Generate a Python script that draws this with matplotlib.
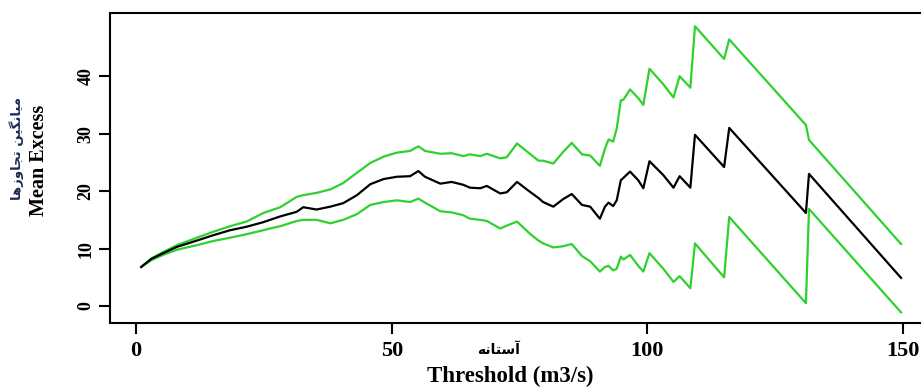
import matplotlib
matplotlib.use('Agg')
import matplotlib.pyplot as plt

# threshold values (m3/s)
threshold = [1, 3, 5.3, 8, 11.9, 15, 18.4, 21.6, 24.9, 26.2, 28.2, 31.4, 32.7, 35.3,
             38, 40.5, 43.2, 45.8, 48.4, 51, 53.6, 55.2, 56.5, 59.5, 61.7, 64, 65.3,
             67.3, 68.6, 71.2, 72.5, 74.5, 77, 78.7, 79.6, 81.6, 83.5, 85.2, 87.2,
             88.8, 90.7, 91.7, 92.4, 93.3, 94, 94.8, 95.3, 96.6, 98.2, 99.2, 100.4,
             103.1, 105.1, 106.3, 108.4, 109.3, 115, 116, 131, 131.6, 149.6]

# mean excess
mean_excess = [6.8, 8.2, 9.2, 10.3, 11.4, 12.3, 13.2, 13.8, 14.6, 15.0, 15.6, 16.4, 17.2,
               16.8, 17.3, 17.9, 19.3, 21.2, 22.1, 22.5, 22.6, 23.5, 22.5, 21.3, 21.6,
               21.1, 20.6, 20.5, 20.9, 19.6, 19.8, 21.6, 19.9, 18.8, 18.1, 17.3, 18.6,
               19.5, 17.6, 17.3, 15.2, 17.3, 18.0, 17.4, 18.4, 21.9, 22.3, 23.4, 21.9,
               20.5, 25.2, 22.8, 20.6, 22.6, 20.6, 29.8, 24.2, 31.0, 16.2, 23.0, 4.9]

# upper confidence band
upper = [6.8, 8.3, 9.4, 10.6, 11.9, 12.9, 13.9, 14.7, 16.2, 16.6, 17.2, 19.0, 19.3, 19.7,
         20.3, 21.4, 23.2, 24.9, 26.0, 26.7, 27.0, 27.8, 27.0, 26.5, 26.6, 26.1, 26.4,
         26.1, 26.5, 25.7, 25.9, 28.3, 26.5, 25.3, 25.3, 24.8, 26.8, 28.4, 26.4, 26.2,
         24.4, 27.4, 29.0, 28.6, 30.9, 35.8, 35.9, 37.7, 36.2, 35.0, 41.3, 38.6, 36.3,
         40.0, 38.0, 48.7, 43.0, 46.4, 31.5, 28.9, 10.8]

# lower confidence band
lower = [6.8, 8.0, 8.9, 9.8, 10.6, 11.3, 11.9, 12.5, 13.2, 13.5, 13.9, 14.8, 15.0, 15.0,
         14.4, 15.0, 16.0, 17.6, 18.1, 18.4, 18.1, 18.7, 18.0, 16.5, 16.3, 15.8, 15.2,
         15.0, 14.8, 13.5, 14.0, 14.7, 12.6, 11.4, 10.9, 10.2, 10.4, 10.8, 8.7, 7.8,
         6.0, 6.8, 7.0, 6.2, 6.5, 8.6, 8.1, 8.9, 7.0, 6.0, 9.2, 6.5, 4.2, 5.2, 3.1,
         10.9, 5.0, 15.5, 0.5, 16.9, -1.1]

x_ticks = [0, 50, 100, 150]
y_ticks = [0, 10, 20, 30, 40]

# Persian labels written in visual (presentation form) order
fa_threshold = '\uFEEA\uFEE7\uFE8E\uFE98\uFEB3\uFE81'  # آستانه
fa_mean_excess = ('\uFE8E\uFEEB\uFEAF\uFEED\uFE8E\uFEA0\uFE97 '
                  '\uFEE6\uFEF4\uFB95\uFEE7\uFE8E\uFEF4\uFEE3')  # میانگین تجاوزها

plt.rcParams['font.family'] = ['Liberation Serif', 'DejaVu Sans']
plt.rcParams['font.weight'] = 'bold'

fig = plt.figure(figsize=(9.21, 3.88), dpi=100)
ax = fig.add_axes([110 / 921, 65 / 388, 812 / 921, 310 / 388])

green = '#2ed12e'
ax.plot(threshold, upper, color=green, lw=1.6)
ax.plot(threshold, lower, color=green, lw=1.6)
ax.plot(threshold, mean_excess, color='black', lw=1.6)

ax.set_xlim(-5.1, 153.7)
ax.set_ylim(-2.95, 51)
ax.set_xticks(x_ticks)
ax.set_yticks(y_ticks)
ax.tick_params(axis='x', length=8, width=1.5, pad=5, labelsize=16)
ax.tick_params(axis='y', length=8, width=1.5, pad=3, labelsize=13, labelrotation=90)
for lab in ax.get_yticklabels():
    lab.set_va('center')
for s in ['left', 'bottom', 'top']:
    ax.spines[s].set_linewidth(1.5)
ax.spines['right'].set_visible(False)

fig.text(510 / 921, 1 - 376 / 388, 'Threshold (m3/s)', ha='center', va='center', fontsize=16.5)
fig.text(499 / 921, 1 - 350 / 388, fa_threshold, ha='center', va='center', fontsize=10,
         family=['DejaVu Sans'])
fig.text(39 / 921, 1 - 160 / 388, 'Mean Excess', ha='center', va='center', fontsize=14.5,
         rotation=90)
fig.text(17 / 921, 1 - 148 / 388, fa_mean_excess, ha='center', va='center', fontsize=9.5,
         rotation=90, color='#1d2b55', family=['DejaVu Sans'])

fig.savefig('out.png', dpi=100)
